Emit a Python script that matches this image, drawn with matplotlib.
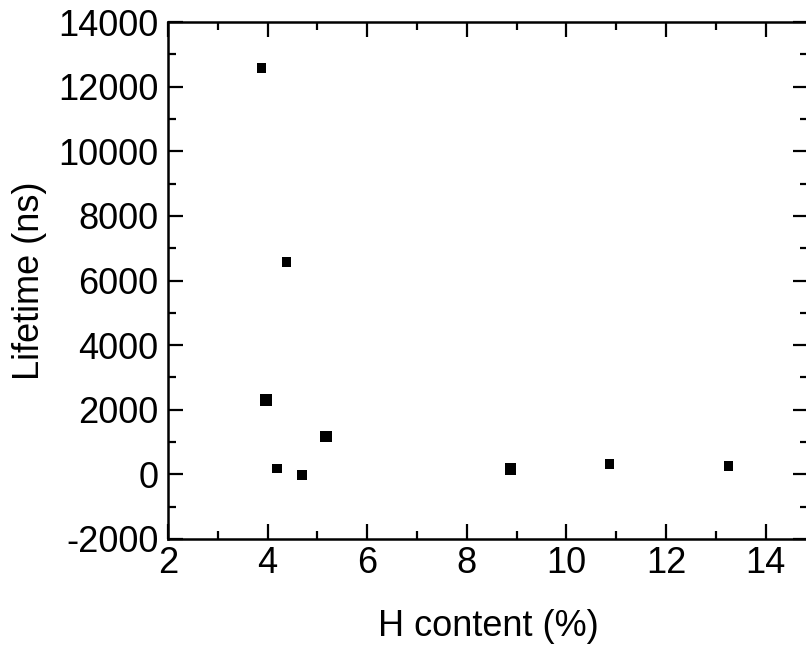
import numpy as np
import matplotlib
matplotlib.use('Agg')
import matplotlib.pyplot as plt
from matplotlib.ticker import MultipleLocator

plt.rcParams['font.family'] = ['Liberation Sans', 'DejaVu Sans']
plt.rcParams['axes.unicode_minus'] = False

# H content (%) and lifetime (ns)
h_content = np.array([3.88, 4.38, 3.97, 5.17, 4.19, 4.69, 8.88, 10.87, 13.26])
lifetime = np.array([12580, 6570, 2300, 1170, 190, -20, 160, 320, 260])
marker_px = np.array([9, 9, 11, 11, 9, 10, 11, 9, 9])

fig = plt.figure(figsize=(8.06, 6.5), dpi=100)
ax = fig.add_axes([168/806, 111/650, 640/806, 517/650])

ax.scatter(h_content, lifetime, marker='s', s=(marker_px*0.75)**2,
           color='black', linewidths=0, zorder=3)

ax.set_xlim(2, 14.85)
ax.set_ylim(-2000, 14000)
ax.xaxis.set_major_locator(MultipleLocator(2))
ax.xaxis.set_minor_locator(MultipleLocator(1))
ax.yaxis.set_major_locator(MultipleLocator(2000))
ax.yaxis.set_minor_locator(MultipleLocator(1000))
ax.tick_params(which='both', direction='in', top=True, right=True,
               width=1.6, labelsize=26, pad=5)
ax.tick_params(which='major', length=11)
ax.tick_params(which='minor', length=6)
ax.tick_params(axis='y', pad=7)
for sp in ax.spines.values():
    sp.set_linewidth(1.8)

ax.set_xlabel('H content (%)', fontsize=26, labelpad=20)
ax.set_ylabel('Lifetime (ns)', fontsize=26, labelpad=8)

fig.savefig('out.png', dpi=100)
